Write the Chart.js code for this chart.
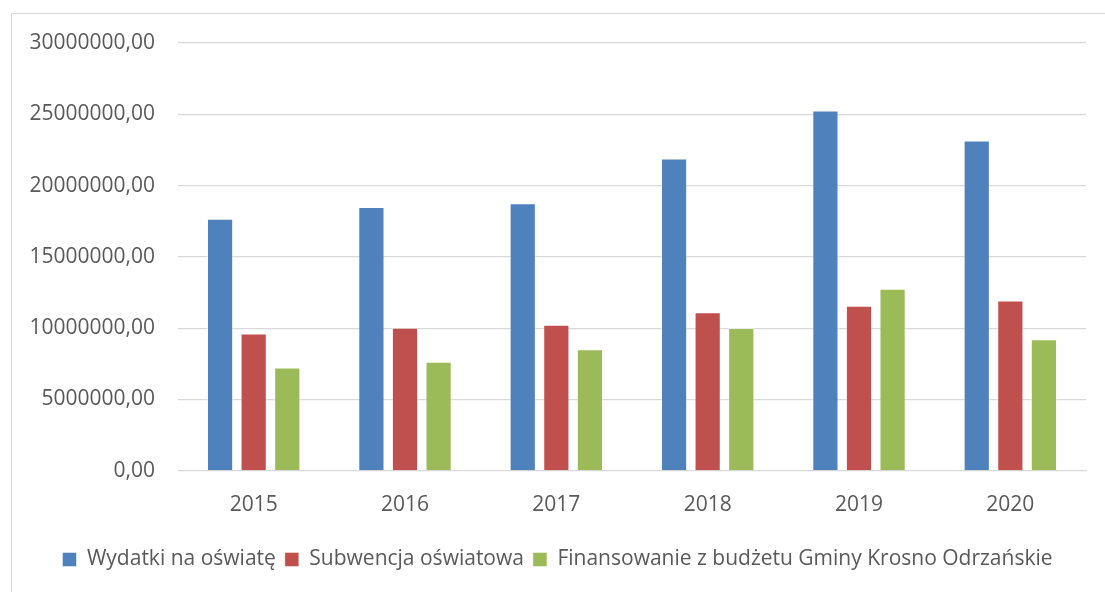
<!DOCTYPE html>
<html lang="pl">
<head>
<meta charset="utf-8">
<title>Wydatki na oświatę</title>
<script src="https://cdn.jsdelivr.net/npm/chart.js@4/dist/chart.umd.min.js"></script>
<style>
  html, body { margin: 0; padding: 0; background: #fff; }
  body { width: 1105px; height: 592px; position: relative; overflow: hidden; }
  #frame {
    position: absolute; left: 11px; top: 13px;
    width: 1110px; height: 600px;
    border: 1px solid #d9d9d9;
  }
  #wrap { position: absolute; left: 0; top: 0; width: 1105px; height: 592px; }
</style>
</head>
<body>
<div id="frame"></div>
<div id="wrap"><canvas id="chart"></canvas></div>
<script>
const years = ["2015", "2016", "2017", "2018", "2019", "2020"];
const wydatki = [17680000, 18500000, 18760000, 21900000, 25270000, 23170000];
const subwencja = [9620000, 10040000, 10250000, 11110000, 11580000, 11950000];
const finansowanie = [7250000, 7640000, 8530000, 10010000, 12760000, 9230000];
const seriesNames = [
  "Wydatki na oświatę",
  "Subwencja oświatowa",
  "Finansowanie z budżetu Gminy Krosno Odrzańskie",
];

document.addEventListener("DOMContentLoaded", () => {
  const textColor = "#595959";
  const gridColor = "#d9d9d9";
  const font = { family: "'Open Sans', 'Noto Sans', sans-serif", size: 21 };

  const ctx = document.getElementById("chart").getContext("2d");
  new Chart(ctx, {
    type: "bar",
    data: {
      labels: years,
      datasets: [
        { label: seriesNames[0], data: wydatki, backgroundColor: "#4f81bd" },
        { label: seriesNames[1], data: subwencja, backgroundColor: "#c0504d" },
        { label: seriesNames[2], data: finansowanie, backgroundColor: "#9bbb59" },
      ].map((d) => ({
        ...d,
        borderColor: "rgba(255,255,255,0.45)",
        borderWidth: 1,
        categoryPercentage: 0.666,
        barPercentage: 0.78,
      })),
    },
    options: {
      responsive: true,
      maintainAspectRatio: false,
      animation: false,
      layout: { padding: { left: 29, right: 19, top: 43, bottom: 12 } },
      plugins: {
        tooltip: { enabled: false },
        legend: {
          position: "bottom",
          labels: {
            color: textColor,
            font,
            boxWidth: 14,
            boxHeight: 14,
            padding: 9,
          },
        },
      },
      scales: {
        x: {
          grid: { display: false, drawTicks: false },
          border: { color: gridColor, width: 1 },
          ticks: { color: textColor, font, padding: 22 },
        },
        y: {
          min: 0,
          max: 30000000,
          afterFit: (s) => {
            // fixed axis width so the plot starts where the original does
            s.width = 149;
          },
          grid: { color: gridColor, lineWidth: 1.2, drawTicks: false },
          border: { display: false },
          ticks: {
            stepSize: 5000000,
            color: textColor,
            font,
            padding: 23,
            callback: (v) => v.toFixed(2).replace(".", ","),
          },
        },
      },
    },
  });
});
</script>
</body>
</html>
